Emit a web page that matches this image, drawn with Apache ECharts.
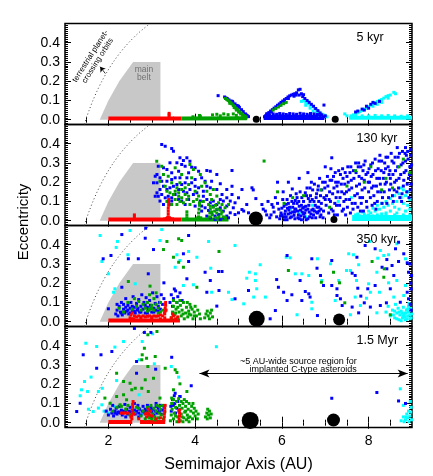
<!DOCTYPE html>
<html><head><meta charset="utf-8">
<script src="https://cdn.jsdelivr.net/npm/echarts@6/dist/echarts.min.js"></script>
<style>html,body{margin:0;padding:0;background:#fff}#c{width:433px;height:476px}</style>
</head><body><div id="c"></div>
<script>
// ---------------- DATA ----------------
const panelLabels = ['5 kyr', '130 kyr', '350 kyr', '1.5 Myr'];
const xTickLabels = [2, 4, 6, 8];
const yTickLabels = [0, 0.1, 0.2, 0.3, 0.4];

// main belt region (a, e)
const mainBelt = [[1.8, 0], [2.0, 0.1], [2.25, 0.2], [2.57, 0.3], [3.2, 0.3], [3.2, 0]];
// terrestrial-planet-crossing boundary (a, e)
const tpcCurve = [[1.444, -0.025], [1.48, 0], [1.558, 0.05], [1.644, 0.1], [1.741, 0.15], [1.85, 0.2], [1.973, 0.25], [2.114, 0.3], [2.277, 0.35], [2.467, 0.4], [2.691, 0.45], [2.96, 0.5]];

// planets (Jupiter, Saturn) per panel
const p1Planets = [[5.41, 0.002], [7.23, 0.002]];
const p2Planets = [[5.40, 0.011], [7.20, 0.006]];
const p3Planets = [[5.42, 0.015], [7.32, 0.011]];
const p4Planets = [[5.27, 0.012], [7.19, 0.014]];

// ---- panel 1 : 5 kyr ----
const p1RedBand = [[2.0, 0.006], [3.68, 0.006]];
const p1GreenBand = [[3.68, 0.006], [5.2, 0.008]];
const p1BlueBand = [[5.58, 0.012], [6.98, 0.012]];
const p1CyanBand = [[7.55, 0.01], [9.0, 0.01]];
const p1Red = [[3.4, 0.015], [3.4, 0.025], [3.4, 0.033]];
const p1Green = [[3.95, 0.015], [4.1, 0.022], [4.12, 0.018], [4.4, 0.025], [4.5, 0.028], [4.58, 0.02], [4.66, 0.03], [4.76, 0.026], [4.88, 0.03], [4.95, 0.022],
  [4.7, 0.11], [4.73, 0.105], [4.76, 0.1], [4.79, 0.093], [4.82, 0.088], [4.85, 0.082], [4.88, 0.074], [4.91, 0.068], [4.94, 0.06], [4.97, 0.053], [5.0, 0.047], [5.03, 0.04], [5.06, 0.034], [5.09, 0.028], [5.12, 0.022], [5.15, 0.018], [5.18, 0.014], [4.8, 0.085], [4.9, 0.063], [5.0, 0.04], [5.1, 0.02], [4.95, 0.05], [5.05, 0.03],
  [5.8, 0.05], [5.86, 0.058], [5.92, 0.066], [5.98, 0.075], [6.04, 0.083], [6.1, 0.09]];
const p1Blue = [[4.68, 0.118], [4.71, 0.113], [4.74, 0.11], [4.78, 0.103], [4.83, 0.097], [4.87, 0.09], [4.92, 0.082], [4.97, 0.074], [5.02, 0.064], [5.07, 0.052], [5.11, 0.042], [5.16, 0.03], [5.2, 0.022], [5.23, 0.016], [4.53, 0.125], [4.86, 0.095], [5.0, 0.07], [5.18, 0.024],
  [5.6, 0.015], [5.63, 0.022], [5.66, 0.03], [5.7, 0.037], [5.74, 0.045], [5.78, 0.052], [5.82, 0.06], [5.86, 0.067], [5.9, 0.075], [5.94, 0.082], [5.98, 0.09], [6.02, 0.097], [6.06, 0.104], [6.1, 0.11], [6.14, 0.118], [6.18, 0.124], [6.22, 0.128], [6.26, 0.132], [5.68, 0.028], [5.76, 0.04], [5.85, 0.058], [5.95, 0.075], [6.05, 0.092], [6.15, 0.11],
  [6.3, 0.135], [6.34, 0.14], [6.38, 0.155], [6.42, 0.158], [6.28, 0.122], [6.33, 0.128], [6.45, 0.135], [6.5, 0.13], [6.4, 0.128],
  [6.48, 0.12], [6.53, 0.11], [6.58, 0.1], [6.63, 0.09], [6.68, 0.08], [6.73, 0.07], [6.78, 0.058], [6.83, 0.047], [6.88, 0.035], [6.92, 0.025], [6.96, 0.015], [6.97, 0.076], [7.0, 0.02],
  [5.65, 0.03], [5.72, 0.025], [5.8, 0.03], [5.88, 0.028], [5.95, 0.032], [6.03, 0.03], [6.1, 0.027], [6.18, 0.032], [6.26, 0.03], [6.34, 0.028], [6.42, 0.033], [6.5, 0.03], [6.58, 0.028], [6.66, 0.032], [6.74, 0.03], [6.82, 0.027], [6.9, 0.025],
  [5.7, 0.02], [5.85, 0.02], [6.0, 0.02], [6.15, 0.02], [6.3, 0.02], [6.45, 0.02], [6.6, 0.02], [6.75, 0.02], [6.88, 0.02],
  [7.75, 0.045], [7.85, 0.055], [7.95, 0.07], [8.05, 0.08], [8.0, 0.06], [8.15, 0.085], [7.9, 0.05], [8.1, 0.09], [7.7, 0.04], [8.25, 0.095]];
const p1Cyan = [[6.45, 0.095], [6.5, 0.1], [6.55, 0.09], [6.6, 0.085], [6.65, 0.075], [6.7, 0.068], [6.75, 0.058], [6.8, 0.05], [6.85, 0.042], [6.9, 0.033], [6.95, 0.026], [7.0, 0.02], [7.04, 0.015], [6.55, 0.075], [6.65, 0.06], [6.72, 0.045], [6.8, 0.035], [6.88, 0.022], [6.6, 0.095],
  [7.45, 0.03], [7.5, 0.02], [7.6, 0.02], [7.65, 0.025], [7.7, 0.03], [7.75, 0.036], [7.8, 0.042], [7.85, 0.048], [7.9, 0.055], [7.95, 0.06], [8.0, 0.068], [8.05, 0.075], [8.1, 0.082], [8.15, 0.088], [8.2, 0.095], [8.25, 0.1], [8.3, 0.105], [8.35, 0.112], [8.4, 0.12], [8.45, 0.125], [8.5, 0.128], [8.58, 0.142], [8.62, 0.135], [8.45, 0.112], [8.3, 0.09], [8.2, 0.08], [8.1, 0.07],
  [7.7, 0.018], [7.85, 0.02], [8.0, 0.02], [8.15, 0.022], [8.3, 0.02], [8.45, 0.022], [8.6, 0.02], [8.75, 0.018], [8.9, 0.02]];

// ---- panel 2 : 130 kyr ----
const p2RedBand = [[2.0, 0.006], [3.69, 0.006]];
const p2GreenBand = [[3.69, 0.006], [4.77, 0.006]];
const p2CyanBand = [[7.62, 0.014], [9.0, 0.014]];
const p2Red = [[3.38, 0.02], [3.38, 0.035], [3.38, 0.05], [3.38, 0.065], [3.39, 0.08], [3.39, 0.095], [3.39, 0.11], [3.36, 0.015], [3.41, 0.015], [3.34, 0.01], [3.43, 0.01], [3.3, 0.009], [3.47, 0.009], [2.6, 0.03], [2.6, 0.02]];
const p2Green = [[3.81, 0.015], [3.81, 0.03], [3.81, 0.046], [4.08, 0.02], [4.08, 0.04], [4.09, 0.06], [4.1, 0.08], [4.1, 0.093], [4.06, 0.015], [4.13, 0.015], [4.33, 0.02], [4.34, 0.04], [4.35, 0.06], [4.35, 0.075],
  [4.4, 0.03], [4.45, 0.05], [4.5, 0.04], [4.42, 0.07], [4.55, 0.02], [4.6, 0.035], [4.48, 0.015], [4.52, 0.06], [4.38, 0.045], [4.65, 0.02], [4.7, 0.015], [4.58, 0.055], [4.47, 0.08], [4.62, 0.045],
  [3.115, 0.309], [3.23, 0.283], [3.27, 0.24], [3.19, 0.205], [3.31, 0.179], [3.35, 0.153], [3.5, 0.136], [3.54, 0.11], [3.62, 0.145], [3.69, 0.162], [3.77, 0.136], [3.85, 0.188], [3.92, 0.223], [3.96, 0.266], [4.0, 0.153], [4.08, 0.128], [3.81, 0.11], [3.65, 0.1], [3.58, 0.171], [3.46, 0.197], [3.69, 0.24], [3.88, 0.292], [4.12, 0.24], [4.15, 0.179], [4.23, 0.197], [4.27, 0.153], [4.35, 0.136], [4.38, 0.11], [4.42, 0.162], [4.5, 0.128], [4.54, 0.093], [4.62, 0.084], [4.69, 0.067], [4.77, 0.084], [4.31, 0.084], [4.19, 0.1], [3.46, 0.084], [3.73, 0.093], [3.96, 0.1], [3.35, 0.1], [3.38, 0.231], [3.54, 0.275],
  [3.62, 0.127], [3.69, 0.119], [3.42, 0.145], [3.58, 0.084], [3.85, 0.127], [3.88, 0.084], [3.77, 0.171], [4.04, 0.11], [3.54, 0.153], [3.65, 0.197],
  [5.59, 0.31], [5.9, 0.15], [6.25, 0.12], [6.9, 0.16], [7.1, 0.07], [7.7, 0.26], [8.05, 0.28], [8.4, 0.22], [8.7, 0.28], [8.95, 0.25], [8.8, 0.32], [7.5, 0.18], [6.5, 0.13], [8.3, 0.16], [7.9, 0.2], [6.05, 0.09], [8.55, 0.17]];
const p2Blue = [[3.23, 0.396], [3.31, 0.387], [3.46, 0.375], [3.5, 0.361], [3.65, 0.327], [3.81, 0.327], [3.73, 0.313], [3.88, 0.309], [3.42, 0.301], [3.58, 0.301], [3.69, 0.292], [3.77, 0.283], [3.92, 0.278], [4.0, 0.275], [4.08, 0.257], [4.27, 0.261], [4.35, 0.257], [4.5, 0.24], [4.85, 0.261], [3.62, 0.257], [3.85, 0.249], [3.46, 0.249], [3.35, 0.266], [3.27, 0.275], [3.15, 0.283], [3.08, 0.231], [3.12, 0.24], [3.19, 0.223], [3.54, 0.223], [3.65, 0.223], [3.81, 0.223], [4.0, 0.214], [4.15, 0.223], [4.23, 0.205], [4.38, 0.205], [4.58, 0.192], [4.73, 0.162], [4.85, 0.136], [5.0, 0.119], [4.92, 0.093], [5.08, 0.058], [5.0, 0.041], [4.88, 0.067], [4.81, 0.041], [4.73, 0.024], [4.65, 0.015], [4.54, 0.032], [4.46, 0.024], [4.38, 0.041], [4.31, 0.053], [4.23, 0.067], [4.15, 0.05], [4.42, 0.076], [4.5, 0.058], [4.58, 0.067], [4.65, 0.102], [4.73, 0.119], [4.62, 0.136], [4.5, 0.162], [4.35, 0.171], [4.27, 0.179], [4.19, 0.153], [4.08, 0.171], [4.0, 0.179], [3.92, 0.197], [3.77, 0.197], [3.69, 0.188], [3.58, 0.188], [3.5, 0.179], [3.42, 0.171], [3.35, 0.162], [3.27, 0.179], [3.19, 0.162], [3.12, 0.145], [3.15, 0.127], [3.23, 0.136], [3.31, 0.119], [3.38, 0.127], [3.46, 0.119], [3.54, 0.136], [3.62, 0.162], [3.73, 0.153], [3.81, 0.145], [3.88, 0.162], [3.96, 0.136], [4.04, 0.145], [4.12, 0.102], [4.19, 0.127], [4.27, 0.11], [4.35, 0.093], [4.42, 0.102], [4.5, 0.084], [4.58, 0.11], [4.65, 0.05], [4.73, 0.076], [4.81, 0.102], [3.62, 0.11], [3.69, 0.102], [3.77, 0.084], [3.85, 0.11], [4.0, 0.076], [3.46, 0.102], [3.42, 0.084], [3.27, 0.084], [3.19, 0.102], [3.08, 0.127], [3.04, 0.197], [3.12, 0.197], [3.23, 0.205], [3.35, 0.205], [3.46, 0.214], [4.35, 0.015], [4.27, 0.024], [4.46, 0.006], [4.58, 0.006], [4.77, 0.015], [4.92, 0.032], [4.15, 0.076], [4.85, 0.179], [5.08, 0.162], [5.31, 0.171], [5.19, 0.084], [5.23, 0.041], [5.34, 0.16], [5.4, 0.115], [5.54, 0.084], [5.57, 0.06], [5.12, 0.05],
  [5.62, 0.05], [5.68, 0.1], [5.75, 0.03], [5.8, 0.07], [5.85, 0.12], [5.88, 0.02], [5.72, 0.015], [5.9, 0.09],
  [5.95, 0.01], [5.98, 0.04], [6.0, 0.065], [6.02, 0.11], [6.05, 0.02], [6.08, 0.05], [6.1, 0.085], [6.12, 0.005], [6.15, 0.035], [6.18, 0.07], [6.2, 0.13], [6.03, 0.15], [6.12, 0.11], [5.97, 0.025], [6.06, 0.005], [6.16, 0.055],
  [6.22, 0.02], [6.25, 0.045], [6.27, 0.09], [6.3, 0.01], [6.32, 0.06], [6.35, 0.12], [6.38, 0.03], [6.4, 0.075], [6.42, 0.15], [6.45, 0.005], [6.47, 0.045], [6.5, 0.1], [6.24, 0.165], [6.33, 0.14], [6.28, 0.028], [6.36, 0.05], [6.44, 0.025], [6.48, 0.065],
  [6.52, 0.02], [6.55, 0.055], [6.57, 0.13], [6.6, 0.01], [6.62, 0.08], [6.65, 0.17], [6.67, 0.035], [6.7, 0.11], [6.72, 0.06], [6.75, 0.19], [6.78, 0.015], [6.8, 0.14], [6.58, 0.17], [6.68, 0.2], [6.53, 0.04], [6.63, 0.045], [6.73, 0.03], [6.77, 0.08],
  [6.82, 0.04], [6.85, 0.1], [6.87, 0.22], [6.9, 0.06], [6.92, 0.16], [6.95, 0.015], [6.97, 0.12], [7.0, 0.2], [7.02, 0.08], [7.05, 0.23], [7.08, 0.04], [7.1, 0.15], [6.88, 0.02], [7.0, 0.11], [6.84, 0.18],
  [7.12, 0.1], [7.15, 0.21], [7.18, 0.05], [7.2, 0.17], [7.23, 0.25], [7.25, 0.12], [7.28, 0.03], [7.3, 0.2], [7.33, 0.08], [7.35, 0.24], [7.38, 0.15], [7.4, 0.27], [7.13, 0.27], [7.27, 0.18], [7.22, 0.09],
  [7.42, 0.06], [7.45, 0.19], [7.48, 0.11], [7.5, 0.23], [7.52, 0.28], [7.55, 0.16], [7.58, 0.04], [7.6, 0.21], [7.62, 0.09], [7.65, 0.26], [7.68, 0.13], [7.7, 0.3], [7.47, 0.03], [7.57, 0.25], [7.44, 0.14],
  [7.72, 0.18], [7.75, 0.07], [7.78, 0.23], [7.8, 0.12], [7.82, 0.28], [7.85, 0.16], [7.88, 0.05], [7.9, 0.21], [7.92, 0.31], [7.95, 0.1], [7.98, 0.25], [8.0, 0.15], [7.77, 0.3], [7.87, 0.26], [7.83, 0.09],
  [8.02, 0.2], [8.05, 0.29], [8.08, 0.08], [8.1, 0.24], [8.12, 0.13], [8.15, 0.32], [8.18, 0.18], [8.2, 0.1], [8.22, 0.27], [8.25, 0.22], [8.28, 0.15], [8.3, 0.31], [8.07, 0.17], [8.17, 0.06], [8.26, 0.34],
  [8.32, 0.12], [8.35, 0.25], [8.38, 0.19], [8.4, 0.33], [8.42, 0.09], [8.45, 0.28], [8.48, 0.16], [8.5, 0.22], [8.52, 0.35], [8.55, 0.13], [8.58, 0.3], [8.6, 0.2], [8.37, 0.3], [8.47, 0.24], [8.57, 0.1],
  [8.62, 0.26], [8.65, 0.15], [8.68, 0.33], [8.7, 0.22], [8.72, 0.12], [8.75, 0.29], [8.78, 0.36], [8.8, 0.18], [8.82, 0.25], [8.85, 0.31], [8.88, 0.15], [8.9, 0.36], [8.92, 0.22], [8.95, 0.28], [8.97, 0.34], [8.98, 0.19], [8.85, 0.38], [8.93, 0.12], [8.66, 0.38], [8.76, 0.1],
  [5.77, 0.084], [6.15, 0.2], [6.4, 0.22], [5.9, 0.2], [7.0, 0.28], [6.6, 0.25], [7.15, 0.327],
  [6.1, 0.02], [6.2, 0.04], [6.3, 0.06], [6.4, 0.01], [6.5, 0.035], [6.6, 0.06], [6.7, 0.015], [6.8, 0.045], [6.25, 0.07], [6.45, 0.08], [6.65, 0.1], [6.35, 0.09], [6.55, 0.075], [6.75, 0.05], [6.9, 0.03], [6.15, 0.09], [6.05, 0.075], [6.85, 0.07],
  [5.65, 0.03], [5.82, 0.045], [5.93, 0.06], [6.0, 0.03], [6.07, 0.035], [6.13, 0.065], [6.19, 0.015], [6.23, 0.1], [6.29, 0.045], [6.31, 0.105], [6.37, 0.015], [6.39, 0.1], [6.43, 0.055], [6.46, 0.12], [6.51, 0.07], [6.54, 0.145], [6.56, 0.005], [6.61, 0.115], [6.64, 0.02], [6.66, 0.13], [6.69, 0.055], [6.71, 0.16], [6.74, 0.1], [6.79, 0.12], [6.81, 0.07], [6.83, 0.16], [6.86, 0.05], [6.89, 0.13], [6.91, 0.09], [6.94, 0.2], [6.96, 0.05], [6.99, 0.17],
  [7.03, 0.13], [7.06, 0.18], [7.09, 0.11], [7.11, 0.21], [7.14, 0.06], [7.17, 0.14], [7.19, 0.23], [7.21, 0.03], [7.24, 0.2], [7.26, 0.08], [7.29, 0.15], [7.31, 0.26], [7.34, 0.12], [7.37, 0.19], [7.39, 0.05], [7.41, 0.22], [7.43, 0.1], [7.46, 0.25], [7.49, 0.15], [7.51, 0.07], [7.53, 0.2], [7.56, 0.11], [7.59, 0.28], [7.61, 0.17], [7.64, 0.06], [7.66, 0.22], [7.69, 0.09], [7.71, 0.25], [7.74, 0.14], [7.76, 0.28], [7.79, 0.19], [7.81, 0.05], [7.84, 0.22], [7.86, 0.12], [7.89, 0.29], [7.91, 0.17], [7.94, 0.24], [7.96, 0.07], [7.99, 0.2],
  [8.01, 0.27], [8.04, 0.12], [8.06, 0.23], [8.09, 0.3], [8.11, 0.18], [8.14, 0.09], [8.16, 0.26], [8.19, 0.22], [8.21, 0.15], [8.24, 0.31], [8.27, 0.19], [8.29, 0.26], [8.31, 0.09], [8.34, 0.22], [8.36, 0.15], [8.39, 0.27], [8.41, 0.2], [8.44, 0.33], [8.46, 0.12], [8.49, 0.26], [8.51, 0.19], [8.54, 0.31], [8.56, 0.24], [8.59, 0.16], [8.61, 0.33], [8.64, 0.21], [8.67, 0.28], [8.69, 0.17], [8.71, 0.35], [8.74, 0.24], [8.77, 0.14], [8.79, 0.3], [8.81, 0.21], [8.84, 0.35], [8.86, 0.26], [8.89, 0.19], [8.91, 0.32], [8.94, 0.24], [8.96, 0.16], [8.99, 0.29], [8.97, 0.37], [8.87, 0.34]];
const p2Cyan = [[7.7, 0.03], [7.8, 0.025], [7.85, 0.045], [7.9, 0.035], [8.0, 0.05], [8.05, 0.04], [8.1, 0.065], [8.15, 0.05], [8.2, 0.08], [8.25, 0.06], [8.3, 0.09], [8.35, 0.07], [8.4, 0.1], [8.45, 0.08], [8.5, 0.115], [8.55, 0.09], [8.6, 0.13], [8.65, 0.1], [8.7, 0.14], [8.75, 0.12], [8.8, 0.16], [8.85, 0.13], [8.9, 0.15], [8.95, 0.11], [8.5, 0.05], [8.6, 0.07], [8.7, 0.06], [8.8, 0.09], [8.9, 0.08], [8.4, 0.04], [8.3, 0.035], [8.2, 0.03], [8.65, 0.04], [8.85, 0.05], [8.95, 0.06], [8.1, 0.025], [7.95, 0.025], [8.75, 0.17], [8.55, 0.13],
  [7.75, 0.035], [8.0, 0.03], [8.4, 0.03], [8.6, 0.03], [8.8, 0.03], [8.95, 0.03],
  [6.2, 0.06], [6.4, 0.04], [6.7, 0.08], [7.3, 0.1], [7.6, 0.12], [6.55, 0.02]];

// ---- panel 3 : 350 kyr ----
const p3RedBand = [[2.0, 0.006], [3.65, 0.006]];
const p3Red = [[2.5, 0.02], [2.52, 0.035], [2.55, 0.045], [2.6, 0.03], [2.65, 0.025], [2.7, 0.03], [2.75, 0.025], [2.8, 0.03], [2.85, 0.025], [2.9, 0.028], [2.95, 0.03], [3.0, 0.025], [3.05, 0.03], [3.1, 0.028], [3.15, 0.03], [3.2, 0.035], [3.25, 0.03], [3.3, 0.02], [3.3, 0.04], [3.31, 0.055], [3.31, 0.07], [3.32, 0.085], [3.32, 0.1], [3.29, 0.045], [3.33, 0.06], [3.3, 0.09], [3.45, 0.02], [3.5, 0.03], [3.55, 0.015], [3.6, 0.025], [3.48, 0.04], [2.58, 0.015], [2.53, 0.015], [2.75, 0.015], [3.0, 0.015], [3.2, 0.015]];
const p3Green = [[2.25, 0.07], [2.35, 0.05], [2.45, 0.1], [2.55, 0.065], [2.65, 0.08], [2.75, 0.06], [2.8, 0.09], [2.85, 0.07], [2.9, 0.1], [2.95, 0.065], [3.0, 0.085], [3.05, 0.06], [3.1, 0.09], [3.15, 0.07], [3.2, 0.1], [3.25, 0.06], [3.05, 0.12], [2.95, 0.14], [3.1, 0.15], [2.7, 0.105], [2.6, 0.12], [3.2, 0.05], [2.9, 0.055], [3.0, 0.07], [3.15, 0.045],
  [3.45, 0.02], [3.48, 0.05], [3.5, 0.08], [3.53, 0.035], [3.56, 0.065], [3.58, 0.1], [3.6, 0.02], [3.63, 0.05], [3.66, 0.085], [3.68, 0.03], [3.7, 0.06], [3.73, 0.1], [3.75, 0.015], [3.78, 0.045], [3.8, 0.075], [3.83, 0.025], [3.85, 0.055], [3.88, 0.09], [3.9, 0.035], [3.93, 0.065], [3.95, 0.015], [3.98, 0.05], [4.0, 0.08], [4.03, 0.03], [4.06, 0.06], [4.1, 0.04], [4.12, 0.015], [3.6, 0.075], [3.72, 0.04], [3.86, 0.04], [3.98, 0.03], [3.5, 0.11], [3.65, 0.11], [3.82, 0.1], [3.55, 0.045], [3.9, 0.075],
  [4.22, 0.02], [4.25, 0.04], [4.28, 0.055], [4.3, 0.03], [4.33, 0.015], [4.35, 0.045], [4.38, 0.06], [4.4, 0.025],
  [3.35, 0.417], [3.62, 0.431], [3.69, 0.422], [4.55, 0.365], [3.27, 0.375], [3.5, 0.335], [3.62, 0.309], [3.73, 0.283], [2.46, 0.209], [2.96, 0.185], [4.04, 0.179], [6.15, 0.266], [6.91, 0.205], [7.19, 0.257], [7.33, 0.202], [7.45, 0.098], [8.08, 0.313], [8.36, 0.275], [8.35, 0.231], [8.5, 0.036]];
const p3Blue = [[2.17, 0.04], [2.2, 0.06], [2.22, 0.03], [2.25, 0.08], [2.28, 0.05], [2.3, 0.1], [2.32, 0.035], [2.35, 0.065], [2.38, 0.045], [2.4, 0.12], [2.42, 0.055], [2.45, 0.085], [2.47, 0.04], [2.5, 0.07], [2.52, 0.1], [2.55, 0.055], [2.57, 0.13], [2.6, 0.075], [2.62, 0.045], [2.65, 0.095], [2.67, 0.06], [2.7, 0.115], [2.72, 0.05], [2.75, 0.08], [2.77, 0.14], [2.8, 0.065], [2.82, 0.1], [2.85, 0.045], [2.87, 0.125], [2.9, 0.075], [2.92, 0.06], [2.95, 0.11], [2.97, 0.085], [3.0, 0.05], [3.02, 0.15], [3.05, 0.07], [3.08, 0.095], [3.1, 0.06], [3.12, 0.13], [3.15, 0.08], [3.18, 0.1], [3.2, 0.065], [3.22, 0.14], [3.25, 0.09], [3.28, 0.12], [2.3, 0.045], [2.45, 0.06], [2.6, 0.055], [2.75, 0.05], [2.9, 0.045], [3.05, 0.05], [2.35, 0.09], [2.55, 0.08], [2.85, 0.085], [3.15, 0.055], [2.4, 0.075], [2.68, 0.07], [2.98, 0.07], [2.2, 0.09], [2.5, 0.045],
  [3.42, 0.1], [3.45, 0.14], [3.5, 0.12], [3.55, 0.16], [3.6, 0.13], [3.48, 0.08], [3.58, 0.1], [3.65, 0.15], [3.7, 0.11], [3.52, 0.17],
  [2.31, 0.453], [2.86, 0.486], [2.85, 0.434], [3.85, 0.448], [3.04, 0.375], [1.88, 0.327], [2.06, 0.344], [2.46, 0.327], [2.69, 0.327], [3.73, 0.353], [3.85, 0.313], [4.23, 0.257], [4.54, 0.261], [4.62, 0.261], [4.35, 0.214], [2.92, 0.249], [3.28, 0.202], [3.81, 0.223], [4.27, 0.153], [4.55, 0.162], [4.92, 0.119], [2.0, 0.067], [2.31, 0.179], [4.5, 0.081],
  [5.23, 0.162], [5.85, 0.058], [6.12, 0.344], [5.92, 0.179], [5.88, 0.219], [6.04, 0.153], [6.23, 0.14], [6.42, 0.214], [6.69, 0.327], [6.81, 0.278], [6.54, 0.157], [6.62, 0.145], [6.65, 0.128], [6.96, 0.188], [6.89, 0.24], [7.15, 0.318], [7.15, 0.188], [7.27, 0.171], [7.27, 0.136], [7.35, 0.119], [7.39, 0.084], [7.62, 0.252], [7.69, 0.24], [7.73, 0.335], [7.75, 0.174], [7.82, 0.133], [7.9, 0.098], [7.62, 0.076], [7.98, 0.171], [7.92, 0.396], [8.15, 0.379], [8.42, 0.323], [8.31, 0.283], [8.42, 0.275], [8.54, 0.292], [8.58, 0.24], [8.5, 0.171], [8.15, 0.188], [8.69, 0.313], [8.62, 0.379], [8.69, 0.413], [8.81, 0.353], [8.89, 0.306], [8.92, 0.257], [8.89, 0.153], [8.92, 0.119], [8.73, 0.101], [8.41, 0.098], [8.27, 0.084], [8.04, 0.076], [7.77, 0.046], [6.82, 0.032], [5.73, 0.015], [6.12, 0.11], [6.46, 0.11],
  [8.97, 0.2], [8.98, 0.17], [8.96, 0.09], [8.99, 0.24], [8.95, 0.3], [8.98, 0.06]];
const p3Cyan = [[1.81, 0.448], [2.21, 0.417], [2.5, 0.474], [3.23, 0.479], [3.19, 0.422], [4.31, 0.417], [2.18, 0.386], [1.85, 0.313], [2.45, 0.348], [3.58, 0.348], [3.85, 0.365], [3.65, 0.318], [4.04, 0.335], [3.54, 0.283], [4.36, 0.278], [2.0, 0.249], [2.62, 0.197], [3.73, 0.188], [3.96, 0.192], [4.38, 0.153], [4.77, 0.153], [4.85, 0.115], [2.12, 0.153], [2.15, 0.171], [4.92, 0.396],
  [5.19, 0.226], [5.25, 0.257], [5.39, 0.249], [5.5, 0.296], [5.39, 0.214], [5.42, 0.171], [5.62, 0.128], [5.12, 0.093], [5.35, 0.128], [6.1, 0.335], [6.19, 0.332], [6.31, 0.249], [6.46, 0.249], [6.82, 0.327], [6.62, 0.24], [6.69, 0.101], [6.92, 0.214], [7.12, 0.301], [7.31, 0.214], [7.23, 0.11], [7.49, 0.266], [7.54, 0.353], [7.58, 0.266], [7.72, 0.214], [7.65, 0.348], [7.77, 0.296], [7.95, 0.122], [7.81, 0.084], [8.04, 0.153], [8.0, 0.197], [8.02, 0.417], [8.27, 0.37], [8.21, 0.33], [8.35, 0.344], [8.46, 0.348], [8.19, 0.257], [8.46, 0.202], [8.25, 0.153], [8.65, 0.214], [8.65, 0.405], [8.85, 0.327], [8.85, 0.188], [8.81, 0.136], [8.58, 0.128], [8.19, 0.046], [7.69, 0.128], [7.58, 0.036], [6.69, 0.067], [6.35, 0.036],
  [8.4, 0.05], [8.45, 0.08], [8.5, 0.03], [8.55, 0.06], [8.6, 0.02], [8.62, 0.09], [8.65, 0.045], [8.68, 0.07], [8.7, 0.01], [8.72, 0.035], [8.75, 0.055], [8.78, 0.02], [8.8, 0.075], [8.82, 0.04], [8.85, 0.01], [8.87, 0.06], [8.9, 0.03], [8.92, 0.05], [8.95, 0.015], [8.97, 0.07], [8.99, 0.04], [8.75, 0.005], [8.85, 0.045], [8.92, 0.08], [8.7, 0.05], [8.8, 0.03], [8.9, 0.065], [8.95, 0.035], [8.65, 0.015], [8.98, 0.02], [8.83, 0.025], [8.77, 0.045], [8.88, 0.015], [8.93, 0.095], [8.6, 0.055], [8.57, 0.035]];

// ---- panel 4 : 1.5 Myr ----
const p4RedBandA = [[2.0, 0.004], [2.55, 0.004]];
const p4RedBandB = [[2.73, 0.004], [3.31, 0.004]];
const p4Red = [[2.54, 0.02], [2.54, 0.035], [2.55, 0.05], [2.55, 0.065], [2.56, 0.08], [2.56, 0.095], [2.57, 0.11], [2.52, 0.03], [2.58, 0.045], [3.28, 0.015], [3.29, 0.03], [3.29, 0.045], [3.3, 0.06], [3.3, 0.075], [3.31, 0.09], [3.63, 0.005], [3.63, 0.02], [3.64, 0.035], [3.64, 0.05], [3.64, 0.065], [2.88, 0.03], [2.9, 0.05], [2.92, 0.07], [2.95, 0.04], [2.97, 0.06], [2.85, 0.045], [3.0, 0.035], [2.3, 0.05], [2.35, 0.05], [2.4, 0.05], [2.45, 0.05], [3.1, 0.02], [3.2, 0.025], [2.7, 0.02]];
const p4Green = [[2.85, 0.02], [2.88, 0.05], [2.9, 0.08], [2.93, 0.035], [2.95, 0.06], [2.98, 0.09], [3.0, 0.02], [3.02, 0.045], [3.05, 0.075], [3.07, 0.03], [3.1, 0.06], [3.12, 0.09], [3.15, 0.025], [3.17, 0.05], [3.2, 0.07], [3.22, 0.04], [3.25, 0.09], [3.27, 0.02], [3.3, 0.055], [2.95, 0.025], [3.08, 0.015], [3.18, 0.085], [2.8, 0.06], [2.75, 0.035], [2.7, 0.075], [2.6, 0.05], [2.5, 0.04], [2.4, 0.07], [2.3, 0.085], [2.2, 0.08], [2.1, 0.06], [2.65, 0.08], [2.45, 0.09],
  [3.43, 0.01], [3.45, 0.04], [3.47, 0.07], [3.5, 0.02], [3.52, 0.05], [3.55, 0.08], [3.57, 0.11], [3.6, 0.03], [3.62, 0.06], [3.64, 0.09], [3.66, 0.01], [3.68, 0.045], [3.7, 0.075], [3.72, 0.1], [3.74, 0.025], [3.76, 0.055], [3.78, 0.085], [3.8, 0.015], [3.82, 0.04], [3.84, 0.07], [3.86, 0.1], [3.88, 0.03], [3.9, 0.06], [3.92, 0.085], [3.94, 0.02], [3.96, 0.05], [3.98, 0.075], [4.0, 0.035], [4.02, 0.06], [4.05, 0.02], [4.07, 0.045], [3.58, 0.005], [3.72, 0.005], [3.86, 0.005], [3.5, 0.12], [3.62, 0.125], [3.75, 0.12], [3.46, 0.1], [3.68, 0.11], [3.8, 0.11], [3.55, 0.035], [3.7, 0.03], [3.84, 0.025], [3.95, 0.1], [3.65, 0.07], [3.78, 0.06],
  [4.24, 0.03], [4.27, 0.05], [4.29, 0.07], [4.31, 0.04], [4.33, 0.06], [4.35, 0.025], [4.37, 0.045], [4.28, 0.02],
  [3.12, 0.474], [2.91, 0.457], [2.83, 0.387], [2.78, 0.353], [2.77, 0.327], [2.88, 0.335], [3.08, 0.344], [2.91, 0.292], [3.31, 0.283], [2.85, 0.223], [2.62, 0.179], [2.54, 0.171], [2.35, 0.214], [2.19, 0.257], [2.5, 0.205], [2.77, 0.179], [3.04, 0.231], [2.92, 0.162], [2.35, 0.145], [2.19, 0.136], [2.04, 0.101], [1.92, 0.128], [3.54, 0.275], [3.58, 0.261], [3.65, 0.202], [3.5, 0.171], [3.46, 0.128], [3.81, 0.162], [3.19, 0.128], [2.42, 0.119], [2.27, 0.093]];
const p4Blue = [[1.95, 0.06], [2.0, 0.04], [2.05, 0.07], [2.08, 0.05], [2.1, 0.09], [2.12, 0.035], [2.15, 0.06], [2.18, 0.075], [2.2, 0.045], [2.22, 0.055], [2.25, 0.085], [2.28, 0.05], [2.3, 0.065], [2.32, 0.04], [2.35, 0.06], [2.38, 0.095], [2.4, 0.055], [2.42, 0.07], [2.45, 0.045], [2.48, 0.06], [2.5, 0.08], [2.52, 0.055], [2.6, 0.065], [2.62, 0.045], [2.65, 0.06], [2.68, 0.09], [2.7, 0.05], [2.72, 0.07], [2.75, 0.04], [2.78, 0.06], [2.8, 0.085], [2.82, 0.055], [2.85, 0.07], [2.88, 0.06], [2.9, 0.09], [2.92, 0.045], [2.95, 0.065], [2.98, 0.08], [3.0, 0.055], [3.02, 0.07], [3.05, 0.04], [3.08, 0.06], [3.1, 0.085], [3.12, 0.05], [3.15, 0.075], [3.18, 0.06], [3.2, 0.09], [3.22, 0.045], [3.25, 0.065], [3.28, 0.08], [2.25, 0.055], [2.55, 0.06], [2.85, 0.05], [3.15, 0.055], [2.4, 0.03], [2.7, 0.03], [3.0, 0.03], [2.15, 0.05], [2.6, 0.1], [3.1, 0.1],
  [3.45, 0.06], [3.5, 0.09], [3.55, 0.05], [3.48, 0.12], [3.53, 0.1], [3.58, 0.075], [3.6, 0.11], [3.44, 0.085], [3.52, 0.14], [3.65, 0.136],
  [2.6, 0.49], [2.83, 0.469], [2.98, 0.469], [2.08, 0.37], [1.42, 0.353], [1.83, 0.353], [1.73, 0.283], [2.65, 0.318], [3.09, 0.278], [3.46, 0.34], [2.65, 0.257], [3.91, 0.192], [3.65, 0.136], [1.35, 0.101], [1.27, 0.058], [3.54, 0.153], [7.15, 0.127], [8.19, 0.157], [8.69, 0.113], [8.85, 0.1]];
const p4Cyan = [[1.48, 0.413], [1.73, 0.396], [2.15, 0.393], [2.35, 0.422], [2.78, 0.422], [3.02, 0.462], [2.71, 0.327], [3.06, 0.306], [3.45, 0.292], [3.62, 0.237], [1.6, 0.237], [1.45, 0.214], [1.52, 0.162], [1.38, 0.171], [1.35, 0.14], [1.86, 0.179], [1.77, 0.162], [2.19, 0.219], [2.71, 0.145], [2.14, 0.084], [1.77, 0.076], [1.65, 0.058], [1.54, 0.07], [1.85, 0.093], [2.0, 0.05], [4.49, 0.395], [8.73, 0.176], [8.8, 0.09], [2.3, 0.06], [2.45, 0.05], [2.6, 0.07], [2.8, 0.045], [1.9, 0.06],
  [8.75, 0.01], [8.8, 0.03], [8.85, 0.015], [8.88, 0.045], [8.9, 0.025], [8.93, 0.005], [8.95, 0.035], [8.97, 0.055], [8.99, 0.015], [8.82, 0.005], [8.92, 0.06], [8.86, 0.03], [8.98, 0.08], [8.96, 0.11]];

// annotation arrows
const sourceArrow = [[4.1, 0.256], [8.9, 0.256]];
const tpcArrow = [[1.93, 0.24], [1.81, 0.275]];

// ---------------- STYLE / LAYOUT ----------------
const FONT = '"Liberation Sans", Arial, Helvetica, sans-serif';
const COL = { red: '#ff0000', green: '#00a000', blue: '#0000ff', cyan: '#00ffff', gray: '#c8c8c8' };
const GL = 65, GW = 347, GT = 23.5, GH = 101;
const planetSizes = [[7, 7], [14, 7], [16, 12], [17, 13]];

const xMinorTicks = [];
for (let k = 3; k < 18; k++) if (k % 4 !== 0) xMinorTicks.push(k / 2);
const yMinorTicks = [];
for (let k = -2; k <= 49; k++) if (k % 10 !== 0) yMinorTicks.push(k / 100);

const panels = [
  { planets: p1Planets, red: p1Red, green: p1Green, blue: p1Blue, cyan: p1Cyan,
    bands: [[p1RedBand, COL.red, 4], [p1GreenBand, COL.green, 4], [p1BlueBand, COL.blue, 5], [p1CyanBand, COL.cyan, 4]] },
  { planets: p2Planets, red: p2Red, green: p2Green, blue: p2Blue, cyan: p2Cyan,
    bands: [[p2RedBand, COL.red, 4], [p2GreenBand, COL.green, 4], [p2CyanBand, COL.cyan, 6]] },
  { planets: p3Planets, red: p3Red, green: p3Green, blue: p3Blue, cyan: p3Cyan,
    bands: [[p3RedBand, COL.red, 4]] },
  { planets: p4Planets, red: p4Red, green: p4Green, blue: p4Blue, cyan: p4Cyan,
    bands: [[p4RedBandA, COL.red, 4], [p4RedBandB, COL.red, 4]] }
];

const grid = [], xAxis = [], yAxis = [], series = [];
const planetSeriesIdx = [];

function xAx(i, pos, major) {
  const showLab = major && pos === 'bottom' && i === 3;
  return {
    type: 'value', gridIndex: i, position: pos, min: 1, max: 9,
    axisLine: { show: false }, splitLine: { show: false },
    axisTick: { show: true, inside: true, length: major ? 6 : 3, customValues: major ? xTickLabels : xMinorTicks, lineStyle: { color: '#000', width: 1 } },
    axisLabel: { show: showLab, customValues: xTickLabels, fontSize: 14, color: '#000', fontFamily: FONT, margin: 7 },
    name: showLab ? 'Semimajor Axis (AU)' : '', nameLocation: 'middle', nameGap: 29,
    nameTextStyle: { fontSize: 16, color: '#000', fontFamily: FONT }
  };
}
function yAx(i, pos, major) {
  const showLab = major && pos === 'left';
  return {
    type: 'value', gridIndex: i, position: pos, min: -0.025, max: 0.5,
    axisLine: { show: false }, splitLine: { show: false },
    axisTick: { show: true, inside: true, length: major ? 6 : 3, customValues: major ? yTickLabels : yMinorTicks, lineStyle: { color: '#000', width: 1 } },
    axisLabel: { show: showLab, customValues: yTickLabels, fontSize: 14, color: '#000', fontFamily: FONT, margin: 5, formatter: v => v.toFixed(1) }
  };
}

panels.forEach((p, i) => {
  grid.push({ left: GL, top: GT + GH * i, width: GW, height: GH, show: true, borderColor: '#000', borderWidth: 1.5, backgroundColor: 'rgba(0,0,0,0)' });
  xAxis.push(xAx(i, 'bottom', true), xAx(i, 'bottom', false), xAx(i, 'top', true), xAx(i, 'top', false));
  yAxis.push(yAx(i, 'left', true), yAx(i, 'left', false), yAx(i, 'right', true), yAx(i, 'right', false));
  const ax = { xAxisIndex: 4 * i, yAxisIndex: 4 * i };
  series.push(Object.assign({
    type: 'custom', z: 1, silent: true, clip: true, data: [[mainBelt[0][0], mainBelt[0][1]]],
    renderItem: (params, api) => ({ type: 'polygon', shape: { points: mainBelt.map(q => api.coord(q)) }, style: { fill: COL.gray } })
  }, ax));
  const curve = Object.assign({
    type: 'line', z: 2, data: tpcCurve, smooth: 0.3, symbol: 'none', silent: true, clip: true,
    lineStyle: { color: '#444', width: 1, type: [1, 2.5] }
  }, ax);
  if (i === 0) {
    curve.markLine = { silent: true, symbol: ['none', 'arrow'], symbolSize: 5, label: { show: false },
      lineStyle: { color: '#000', width: 0.8, type: 'solid' }, data: [[{ coord: tpcArrow[0] }, { coord: tpcArrow[1] }]] };
  }
  series.push(curve);
  p.bands.forEach(b => series.push(Object.assign({
    type: 'line', z: 3, data: b[0], symbol: 'none', silent: true, lineStyle: { color: b[1], width: b[2], cap: 'butt' }
  }, ax)));
  [['cyan', p.cyan], ['blue', p.blue], ['green', p.green], ['red', p.red]].forEach(g => series.push(Object.assign({
    type: 'scatter', z: 4, data: g[1], symbol: 'rect', symbolSize: 3, silent: true,
    itemStyle: { color: COL[g[0]], opacity: 1 }
  }, ax)));
  planetSeriesIdx.push(series.length);
  series.push(Object.assign({
    type: 'scatter', z: 5, silent: true, clip: false,
    data: p.planets.map((q, k) => ({ value: q, symbolSize: planetSizes[i][k] })),
    symbol: 'circle', itemStyle: { color: '#000', opacity: 1 }
  }, ax));
  if (i === 3) {
    series.push(Object.assign({
      type: 'line', z: 6, data: sourceArrow, symbol: 'none', silent: true, lineStyle: { opacity: 0 },
      markLine: { silent: true, symbol: ['arrow', 'arrow'], symbolSize: [6, 10], label: { show: false },
        lineStyle: { color: '#000', width: 1.2, type: 'solid' }, data: [[{ coord: sourceArrow[0] }, { coord: sourceArrow[1] }]] }
    }, ax));
  }
});

const chart = echarts.init(document.getElementById('c'), null, { renderer: 'canvas' });
chart.setOption({
  animation: false, backgroundColor: '#fff',
  textStyle: { fontFamily: FONT },
  grid, xAxis, yAxis, series
});

const P = (i, a, e) => chart.convertToPixel({ seriesIndex: planetSeriesIdx[i] }, [a, e]);
const graphic = [];
panelLabels.forEach((t, i) => {
  const pt = P(i, 7.72, 0.425);
  graphic.push({ type: 'text', x: pt[0], y: pt[1], z: 100, style: { text: t, fontSize: 12.5, fontFamily: FONT, fill: '#000', align: 'left', verticalAlign: 'middle' } });
});
let q = P(0, 2.82, 0.262);
graphic.push({ type: 'text', x: q[0], y: q[1], z: 100, style: { text: 'main', fontSize: 8.5, fontFamily: FONT, fill: '#707070', align: 'center', verticalAlign: 'middle' } });
q = P(0, 2.82, 0.22);
graphic.push({ type: 'text', x: q[0], y: q[1], z: 100, style: { text: 'belt', fontSize: 8.5, fontFamily: FONT, fill: '#707070', align: 'center', verticalAlign: 'middle' } });
q = P(0, 1.67, 0.318);
graphic.push({ type: 'text', x: q[0], y: q[1], rotation: 57.6 * Math.PI / 180, z: 100,
  style: { text: 'terrestrial planet-\ncrossing orbits', fontSize: 8, lineHeight: 8.5, fontFamily: FONT, fill: '#000', align: 'center', verticalAlign: 'middle' } });
q = P(3, 6.38, 0.318);
graphic.push({ type: 'text', x: q[0], y: q[1], z: 100, style: { text: '~5 AU-wide source region for', fontSize: 9, fontFamily: FONT, fill: '#000', align: 'center', verticalAlign: 'middle' } });
q = P(3, 6.49, 0.277);
graphic.push({ type: 'text', x: q[0], y: q[1], z: 100, style: { text: 'implanted C-type asteroids', fontSize: 9, fontFamily: FONT, fill: '#000', align: 'center', verticalAlign: 'middle' } });
graphic.push({ type: 'text', x: 24, y: 222, rotation: Math.PI / 2, z: 100, style: { text: 'Eccentricity', fontSize: 15, fontFamily: FONT, fill: '#000', align: 'center', verticalAlign: 'middle' } });
chart.setOption({ graphic });
</script></body></html>
